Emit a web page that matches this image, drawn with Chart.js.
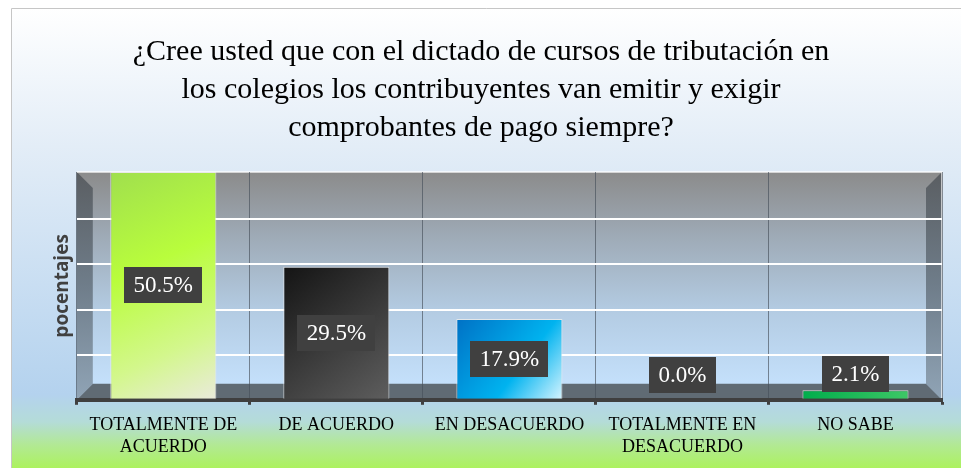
<!DOCTYPE html>
<html>
<head>
<meta charset="utf-8">
<script src="https://cdn.jsdelivr.net/npm/chart.js@4/dist/chart.umd.min.js"></script>
<style>
  html, body { margin: 0; padding: 0; background: #fff; }
  canvas { display: block; }
</style>
</head>
<body>
<canvas id="surveyChart" width="961" height="468"></canvas>
<script>
const TITLE_LINES = [
    "¿Cree usted que con el dictado de cursos de tributación en",
    "los colegios los contribuyentes van emitir y exigir",
    "comprobantes de pago siempre?"
];
const CATEGORIES = [
    ["TOTALMENTE DE", "ACUERDO"],
    "DE ACUERDO",
    "EN DESACUERDO",
    ["TOTALMENTE EN", "DESACUERDO"],
    "NO SABE"
];
const PERCENTAGES = [50.5, 29.5, 17.9, 0.0, 2.1];
const Y_TITLE = "pocentajes";
const Y_MAX = 50.5;
const Y_STEP = 10;

// gradient stops per bar (top-left -> bottom-right)
const BAR_STYLES = [
    [[0, '#a0df4e'], [0.4, '#b9fd3c'], [0.75, '#d3f78c'], [1, '#eaeadc']],
    [[0, '#141414'], [1, '#5e5e5e']],
    [[0, '#0071c5'], [0.6, '#00b3ef'], [1, '#d8f5ff']],
    [[0, '#808080'], [1, '#808080']],
    [[0, '#00ad4c'], [1, '#3ec766']]
];
const BAR_PERCENT = 0.613;
const WALL_DEPTH = 16;

const backdropPlugin = {
    id: 'backdrop',
    beforeDraw(chart) {
        const { ctx, width, height, chartArea: a } = chart;
        ctx.save();
        ctx.fillStyle = '#fff';
        ctx.fillRect(0, 0, width, height);

        // outer chart box
        const bx = 11, by = 8;
        const bg = ctx.createLinearGradient(0, by, 0, height);
        bg.addColorStop(0, '#ffffff');
        bg.addColorStop(0.3, '#e3edf7');
        bg.addColorStop(0.84, '#b4d2ee');
        bg.addColorStop(0.9, '#b4dcd8');
        bg.addColorStop(0.95, '#b2e994');
        bg.addColorStop(1, '#acf25e');
        ctx.fillStyle = bg;
        ctx.fillRect(bx, by, width - bx, height - by);
        ctx.strokeStyle = '#c6c6c6';
        ctx.lineWidth = 1;
        ctx.beginPath();
        ctx.moveTo(bx + 0.5, height);
        ctx.lineTo(bx + 0.5, by + 0.5);
        ctx.lineTo(width, by + 0.5);
        ctx.stroke();

        // 3D walls
        const d = WALL_DEPTH;
        const l = a.left, r = a.right, t = a.top, b = a.bottom;
        const wg = ctx.createLinearGradient(0, t, 0, b - d);
        wg.addColorStop(0, '#8b8b8b');
        wg.addColorStop(0.3, '#9eaab6');
        wg.addColorStop(0.65, '#b3cbe2');
        wg.addColorStop(1, '#c4e0fb');
        ctx.fillStyle = wg;
        ctx.fillRect(l, t, r - l, b - t);

        const sg = ctx.createLinearGradient(0, t, 0, b);
        sg.addColorStop(0, '#5a5e62');
        sg.addColorStop(0.5, '#6f7d8a');
        sg.addColorStop(1, '#90a4b6');
        ctx.fillStyle = sg;
        ctx.beginPath();
        ctx.moveTo(l, t); ctx.lineTo(l + d, t + d); ctx.lineTo(l + d, b - d); ctx.lineTo(l, b);
        ctx.closePath(); ctx.fill();
        ctx.beginPath();
        ctx.moveTo(r, t); ctx.lineTo(r - d, t + d); ctx.lineTo(r - d, b - d); ctx.lineTo(r, b);
        ctx.closePath(); ctx.fill();

        ctx.fillStyle = '#606b74';
        ctx.beginPath();
        ctx.moveTo(l, b); ctx.lineTo(l + d, b - d); ctx.lineTo(r - d, b - d); ctx.lineTo(r, b);
        ctx.closePath(); ctx.fill();

        ctx.strokeStyle = 'rgba(255,255,255,0.85)';
        ctx.lineWidth = 1.5;
        ctx.beginPath();
        ctx.moveTo(l, t); ctx.lineTo(r, t); ctx.lineTo(r, b);
        ctx.stroke();
        ctx.restore();
    }
};

const valueLabelPlugin = {
    id: 'valueLabels',
    afterDatasetsDraw(chart) {
        const { ctx } = chart;
        const meta = chart.getDatasetMeta(0);
        ctx.save();
        ctx.font = '23px "Liberation Serif", "Times New Roman", serif';
        ctx.textAlign = 'center';
        ctx.textBaseline = 'middle';
        meta.data.forEach((bar, i) => {
            const text = PERCENTAGES[i].toFixed(1) + '%';
            const w = ctx.measureText(text).width + 19;
            const h = 36;
            const cy = Math.min((bar.y + bar.base) / 2, bar.base - 25);
            ctx.fillStyle = '#404040';
            ctx.fillRect(Math.round(bar.x - w / 2), Math.round(cy - h / 2), Math.round(w), h);
            ctx.fillStyle = '#ffffff';
            ctx.fillText(text, bar.x, cy + 1);
        });
        ctx.restore();
    }
};

function barFill(c) {
    const chart = c.chart;
    const stops = BAR_STYLES[c.dataIndex];
    if (!chart.chartArea || c.type !== 'data') return stops[0][1];
    const xs = chart.scales.x, ys = chart.scales.y;
    const cx = xs.getPixelForValue(c.dataIndex);
    const half = (xs.width / CATEGORIES.length) * BAR_PERCENT / 2;
    const top = ys.getPixelForValue(PERCENTAGES[c.dataIndex]);
    const base = ys.getPixelForValue(0);
    const g = chart.ctx.createLinearGradient(cx - half, top, cx + half, base);
    stops.forEach(s => g.addColorStop(s[0], s[1]));
    return g;
}

new Chart(document.getElementById('surveyChart'), {
    type: 'bar',
    data: {
        labels: CATEGORIES,
        datasets: [{
            data: PERCENTAGES,
            backgroundColor: barFill,
            borderColor: 'rgba(235,235,235,0.85)',
            borderWidth: c => (PERCENTAGES[c.dataIndex] > 0 ? 1 : 0),
            borderSkipped: 'bottom',
            categoryPercentage: 1,
            barPercentage: BAR_PERCENT
        }]
    },
    options: {
        responsive: false,
        animation: false,
        events: [],
        layout: { padding: { left: 20, right: 19, top: 0, bottom: 0 } },
        plugins: {
            legend: { display: false },
            tooltip: { enabled: false },
            title: {
                display: true,
                text: TITLE_LINES,
                color: '#000',
                font: { family: '"Liberation Serif", "Times New Roman", serif', size: 30, weight: 'normal', lineHeight: 1.2667 },
                padding: { top: 33, bottom: 25 }
            }
        },
        scales: {
            x: {
                grid: {
                    color: 'rgba(70,80,90,0.65)',
                    lineWidth: 1,
                    tickColor: '#3f3f3f',
                    tickWidth: 3,
                    tickLength: 5
                },
                border: { color: '#3f3f3f', width: 4 },
                ticks: {
                    color: '#000',
                    padding: 10,
                    maxRotation: 0,
                    autoSkip: false,
                    font: { family: '"Liberation Serif", "Times New Roman", serif', size: 18, lineHeight: 1.2 }
                }
            },
            y: {
                min: 0,
                max: Y_MAX,
                border: { display: false },
                grid: {
                    drawTicks: false,
                    lineWidth: 2,
                    color: c => (c.tick && c.tick.value > 0 && c.tick.value < Y_MAX ? '#ffffff' : 'rgba(0,0,0,0)')
                },
                ticks: { display: false, stepSize: Y_STEP },
                title: {
                    display: true,
                    text: Y_TITLE,
                    color: '#404040',
                    padding: { top: 31, bottom: 3 },
                    font: { family: '"Open Sans", sans-serif', size: 19, weight: 'bold', lineHeight: 1.2 }
                }
            }
        }
    },
    plugins: [backdropPlugin, valueLabelPlugin]
});
</script>
</body>
</html>
